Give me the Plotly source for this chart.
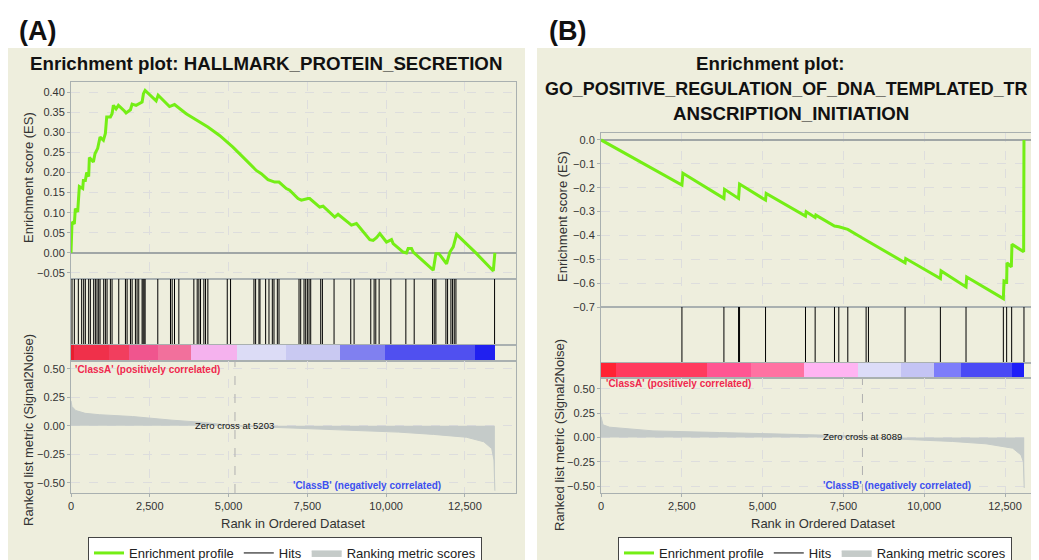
import plotly.graph_objects as go

# The page body has an 8px margin, so the figure is laid out in page pixels minus that offset.
OFF = 8
W, H = 1039 - OFF, 560 - OFF

def px(x):
    return (x - OFF) / W

def py(y):
    return 1 - (y - OFF) / H

# ---------------- DATA: panel A (HALLMARK_PROTEIN_SECRETION) ----------------
es_rank_A = [0, 32, 106, 138, 212, 244, 265, 371, 392, 455, 498, 561, 583, 710, 763, 847, 922,
             1028, 1091, 1133, 1250, 1303, 1345, 1430, 1504, 1695, 1748, 1886, 1939, 2066, 2150,
             2193, 2256, 2299, 2352, 2701, 2765, 3125, 3284, 3655, 4078, 4343, 4714, 5138, 5561,
             5879, 6038, 6250, 6462, 6600, 6832, 6938, 7203, 7309, 7521, 7574, 7892, 7998, 8368,
             8474, 8898, 9057, 9481, 9587, 9693, 9799, 10010, 10169, 10222, 10540, 10646, 10699,
             10805, 10858, 11494, 11578, 11674, 11917, 12023, 12129, 12235, 12870, 13400, 13450]
es_val_A = [0.000, 0.077, 0.072, 0.110, 0.102, 0.140, 0.165, 0.160, 0.180, 0.180, 0.200, 0.190,
            0.237, 0.226, 0.247, 0.260, 0.288, 0.280, 0.297, 0.338, 0.338, 0.346, 0.367, 0.358,
            0.367, 0.353, 0.348, 0.356, 0.370, 0.367, 0.370, 0.373, 0.375, 0.396, 0.404, 0.378,
            0.392, 0.364, 0.369, 0.346, 0.325, 0.313, 0.292, 0.263, 0.230, 0.205, 0.197, 0.182,
            0.176, 0.176, 0.160, 0.156, 0.135, 0.131, 0.135, 0.135, 0.114, 0.116, 0.089, 0.096,
            0.069, 0.073, 0.033, 0.031, 0.038, 0.048, 0.027, 0.033, 0.023, 0.002, 0.000, 0.011,
            0.011, 0.002, -0.043, -0.002, -0.002, -0.027, 0.002, 0.015, 0.046, -0.002, -0.045, 0.000]
hits_A = [32, 106, 233, 339, 403, 455, 561, 614, 720, 773, 826, 879, 922, 1038, 1091, 1144, 1250,
          1303, 1515, 1727, 1780, 1886, 1939, 2044, 2097, 2150, 2256, 2288, 2320, 2352, 2754, 3157,
          3210, 3284, 3422, 3898, 4004, 4057, 4110, 4216, 4269, 4343, 4958, 5063, 5805, 5858, 5964,
          5996, 6176, 6282, 6388, 6441, 6547, 6600, 7235, 7288, 7394, 7447, 7500, 7553, 7606, 7924,
          7977, 8347, 8877, 8983, 9512, 9618, 9671, 9777, 10148, 10625, 10890, 11472, 11525, 11578,
          11896, 11949, 12055, 12108, 12161, 12214, 13440]
metric_rank_A = [0, 30, 150, 450, 900, 1950, 3200, 4200, 5203, 6000, 7500, 9000, 10400, 11500,
                 12550, 13100, 13350, 13420, 13445, 13450]
metric_val_A = [0.22, 0.17, 0.135, 0.11, 0.098, 0.082, 0.05, 0.03, 0.0, -0.008, -0.02, -0.035,
                -0.055, -0.075, -0.10, -0.14, -0.20, -0.30, -0.57, -0.57]
cbar_edges_A = [0, 106, 1218, 1854, 2754, 3792, 5265, 6832, 8527, 9957, 12818, 13453]
cbar_colors_A = ["#e81e2e", "#f0304a", "#f23e5e", "#f0558e", "#f2709c", "#f5b2ee", "#dcdcf6",
                 "#c9c9f2", "#8080f0", "#5050f0", "#2020f0"]
zero_cross_A = 5203

# ---------------- DATA: panel B (GO_POSITIVE_REGULATION_...) ----------------
es_rank_B = [0, 2504, 2535, 3803, 3823, 4256, 4287, 5091, 5111, 6327, 6348, 6626, 6647, 7224,
             7358, 7636, 8203, 9408, 9429, 10501, 10522, 11294, 11315, 12449, 12469, 12551,
             12562, 12696, 12716, 13077, 13087]
es_val_B = [0.0, -0.189, -0.140, -0.245, -0.207, -0.245, -0.185, -0.252, -0.224, -0.319, -0.301,
            -0.325, -0.315, -0.361, -0.364, -0.375, -0.420, -0.515, -0.497, -0.581, -0.549,
            -0.616, -0.574, -0.665, -0.591, -0.595, -0.515, -0.532, -0.437, -0.469, 0.0]
hits_B = [2504, 3803, 4256, 4287, 5091, 6327, 6626, 7224, 7358, 7636, 8203, 8275, 9408, 10501,
          11294, 12449, 12551, 12706, 13087]
metric_rank_B = [0, 62, 268, 577, 1608, 3669, 5730, 7791, 8089, 8821, 9852, 10882, 11913, 12737,
                 12995, 13067, 13095, 13098]
metric_val_B = [0.216, 0.13, 0.106, 0.096, 0.068, 0.051, 0.034, 0.017, 0.0, -0.01, -0.024,
                -0.041, -0.065, -0.11, -0.18, -0.25, -0.52, -0.52]
cbar_edges_B = [0, 474, 3287, 4627, 6296, 7945, 9285, 10315, 11140, 12716, 13098]
cbar_colors_B = ["#ff2234", "#ff3a5e", "#ff5592", "#ff72a2", "#ffb4f2", "#dcdcf8", "#c4c4f4",
                 "#7d7dfa", "#4a4af5", "#1e1ef8"]
zero_cross_B = 8089

x_ticks = [0, 2500, 5000, 7500, 10000, 12500]
es_ticks_A = [-0.05, 0.0, 0.05, 0.10, 0.15, 0.20, 0.25, 0.30, 0.35, 0.40]
es_ticks_B = [0.0, -0.1, -0.2, -0.3, -0.4, -0.5, -0.6, -0.7]
metric_ticks = [-0.5, -0.25, 0.0, 0.25, 0.5]

GREEN = "#74ee15"
BORDER = "#a9b0b0"
GRID = "#dddddd"
BEIGE = "#eeeedd"
FILL = "#c5cbc9"
FONT = "Liberation Sans, Arial, sans-serif"

fig = go.Figure()

def add_panel(sfx, legend, es_r, es_v, hits, m_r, m_v, edges, colors):
    xs = [str(i) if i > 1 else "" for i in sfx]
    fig.add_trace(go.Scatter(x=es_r, y=es_v, mode="lines", name="Enrichment profile",
                             line=dict(color=GREEN, width=3), xaxis="x" + xs[0], yaxis="y" + xs[0],
                             legend=legend, hoverinfo="skip"))
    hx, hy = [], []
    for h in hits:
        hx += [h, h, None]
        hy += [0, 1, None]
    fig.add_trace(go.Scatter(x=hx, y=hy, mode="lines", name="Hits",
                             line=dict(color="black", width=1), xaxis="x" + xs[1], yaxis="y" + xs[1],
                             legend=legend, hoverinfo="skip"))
    fig.add_trace(go.Scatter(x=m_r, y=m_v, mode="lines", name="Ranking metric scores",
                             fill="tozeroy", fillcolor=FILL, line=dict(color=FILL, width=1),
                             xaxis="x" + xs[3], yaxis="y" + xs[3], legend=legend, hoverinfo="skip"))
    centers = [(edges[i] + edges[i + 1]) / 2 for i in range(len(colors))]
    widths = [edges[i + 1] - edges[i] for i in range(len(colors))]
    fig.add_trace(go.Bar(x=centers, y=[1] * len(colors), width=widths, base=0,
                         marker=dict(color=colors, line=dict(width=0)), showlegend=False,
                         xaxis="x" + xs[2], yaxis="y" + xs[2], hoverinfo="skip"))

add_panel([1, 2, 3, 4], "legend", es_rank_A, es_val_A, hits_A, metric_rank_A, metric_val_A,
          cbar_edges_A, cbar_colors_A)
add_panel([5, 6, 7, 8], "legend2", es_rank_B, es_val_B, hits_B, metric_rank_B, metric_val_B,
          cbar_edges_B, cbar_colors_B)

tickfont = dict(size=11, color="#333333")

def xaxis(x0, x1, rng, anchor, grid, labels):
    return dict(domain=[px(x0), min(px(x1), 1)], range=rng, anchor=anchor, showgrid=grid,
                gridcolor=GRID, griddash="dash", zeroline=False, showline=True, mirror=True,
                linecolor=BORDER, tickvals=x_ticks, tickformat=",d",
                showticklabels=labels, ticks="outside" if labels else "", ticklen=3,
                tickcolor=BORDER, tickfont=tickfont)

def yaxis(y0, y1, rng, anchor, ticks=None, fmt=None, zero=False, grid=True):
    d = dict(domain=[py(y1), py(y0)], range=rng, anchor=anchor, showline=True, mirror=True,
             linecolor=BORDER, zeroline=zero, zerolinecolor="#a0a6a6", zerolinewidth=1.5,
             showgrid=grid, gridcolor=GRID, griddash="dash", tickfont=tickfont)
    if ticks is None:
        d.update(showticklabels=False, ticks="")
    else:
        d.update(tickvals=ticks, tickformat=fmt, ticks="outside", ticklen=3, tickcolor=BORDER)
    return d

rngA = [0, 14120]
rngB = [0, 13552]

legend_style = dict(yanchor="top", xanchor="left", orientation="h", bgcolor="white",
                    bordercolor="#444444", borderwidth=1, itemwidth=30,
                    font=dict(size=13, color="#222222"), traceorder="normal")

layout = dict(
    width=W, height=H, margin=dict(l=0, r=0, t=0, b=0, autoexpand=False),
    paper_bgcolor="white", plot_bgcolor="white", font=dict(family=FONT, color="#222222"),
    barmode="overlay", bargap=0,
    xaxis=xaxis(71, 516, rngA, "y", True, False),
    yaxis=yaxis(82, 279, [-0.065, 0.425], "x", es_ticks_A, ".2f", zero=True),
    xaxis2=xaxis(71, 516, rngA, "y2", False, False),
    yaxis2=yaxis(279, 345, [0, 1], "x2", grid=False),
    xaxis3=xaxis(71, 516, rngA, "y3", False, False),
    yaxis3=yaxis(345, 361, [0, 1], "x3", grid=False),
    xaxis4=xaxis(71, 516, rngA, "y4", True, True),
    yaxis4=yaxis(361, 493, [-0.59, 0.57], "x4", metric_ticks, ".2f"),
    xaxis5=xaxis(601, 1039, rngB, "y5", True, False),
    yaxis5=yaxis(133, 307, [-0.7, 0.029], "x5", es_ticks_B, ".1f", zero=True),
    xaxis6=xaxis(601, 1039, rngB, "y6", False, False),
    yaxis6=yaxis(307, 363, [0, 1], "x6", grid=False),
    xaxis7=xaxis(601, 1039, rngB, "y7", False, False),
    yaxis7=yaxis(363, 378, [0, 1], "x7", grid=False),
    xaxis8=xaxis(601, 1039, rngB, "y8", True, True),
    yaxis8=yaxis(378, 493, [-0.572, 0.613], "x8", metric_ticks, ".2f"),
    legend=dict(x=px(88), y=py(537), **legend_style),
    legend2=dict(x=px(618), y=py(537), **legend_style),
)
fig.update_layout(**layout)

shapes = [
    dict(type="rect", xref="paper", yref="paper", x0=px(8), x1=px(525), y0=0, y1=py(48),
         fillcolor=BEIGE, line=dict(width=0), layer="below"),
    dict(type="rect", xref="paper", yref="paper", x0=px(537), x1=1, y0=0, y1=py(48),
         fillcolor=BEIGE, line=dict(width=0), layer="below"),
    dict(type="line", xref="x4", yref="y4 domain", x0=zero_cross_A, x1=zero_cross_A, y0=0, y1=1,
         line=dict(color="#b0b0b0", width=1, dash="dash")),
    dict(type="line", xref="x8", yref="y8 domain", x0=zero_cross_B, x1=zero_cross_B, y0=0, y1=1,
         line=dict(color="#b0b0b0", width=1, dash="dash")),
]
fig.update_layout(shapes=shapes)

def ann(text, x, y, size, color="#222222", xanchor="center", angle=0, bold=False, **kw):
    t = f"<b>{text}</b>" if bold else text
    d = dict(text=t, x=px(x), y=py(y), xref="paper", yref="paper", xanchor=xanchor,
             yanchor="middle", showarrow=False, textangle=angle,
             font=dict(size=size, color=color, family=FONT))
    d.update(kw)
    return d

TS = 18.7
anns = [
    ann("(A)", 37, 31, 27, "#111111", bold=True),
    ann("(B)", 567, 31, 27, "#111111", bold=True),
    ann("Enrichment plot: HALLMARK_PROTEIN_SECRETION", 266, 63, TS, "#111111", bold=True),
    ann("Enrichment plot:", 770, 63, TS, "#111111", bold=True),
    ann("GO_POSITIVE_REGULATION_OF_DNA_TEMPLATED_TR", 543, 89, 17.9,
        "#111111", xanchor="left", bold=True),
    ann("ANSCRIPTION_INITIATION", 791, 114, TS, "#111111", bold=True),
    ann("Enrichment score (ES)", 28, 178, 13, "#333333", angle=-90),
    ann("Ranked list metric (Signal2Noise)", 28, 430, 13, "#333333", angle=-90),
    ann("Enrichment score (ES)", 562, 217, 13, "#333333", angle=-90),
    ann("Ranked list metric (Signal2Noise)", 559, 435, 13, "#333333", angle=-90),
    ann("Rank in Ordered Dataset", 293, 523, 13, "#333333"),
    ann("Rank in Ordered Dataset", 823, 523, 13, "#333333"),
    ann("'ClassA' (positively correlated)", 73, 369, 10, "#f0284e", xanchor="left", bold=True),
    ann("'ClassB' (negatively correlated)", 443, 485, 10, "#3c50f0", xanchor="right", bold=True),
    ann("'ClassA' (positively correlated)", 604, 383, 10, "#f0284e", xanchor="left", bold=True),
    ann("'ClassB' (negatively correlated)", 973, 485, 10, "#3c50f0", xanchor="right", bold=True),
    dict(text=f"Zero cross at {zero_cross_A}", x=zero_cross_A, y=0, xref="x4", yref="y4",
         showarrow=False, yanchor="middle", font=dict(size=9.5, color="#111111", family=FONT)),
    dict(text=f"Zero cross at {zero_cross_B}", x=zero_cross_B, y=0.01, xref="x8", yref="y8",
         showarrow=False, yanchor="middle", font=dict(size=9.5, color="#111111", family=FONT)),
]
fig.update_layout(annotations=anns)

fig.write_html("out.html")
